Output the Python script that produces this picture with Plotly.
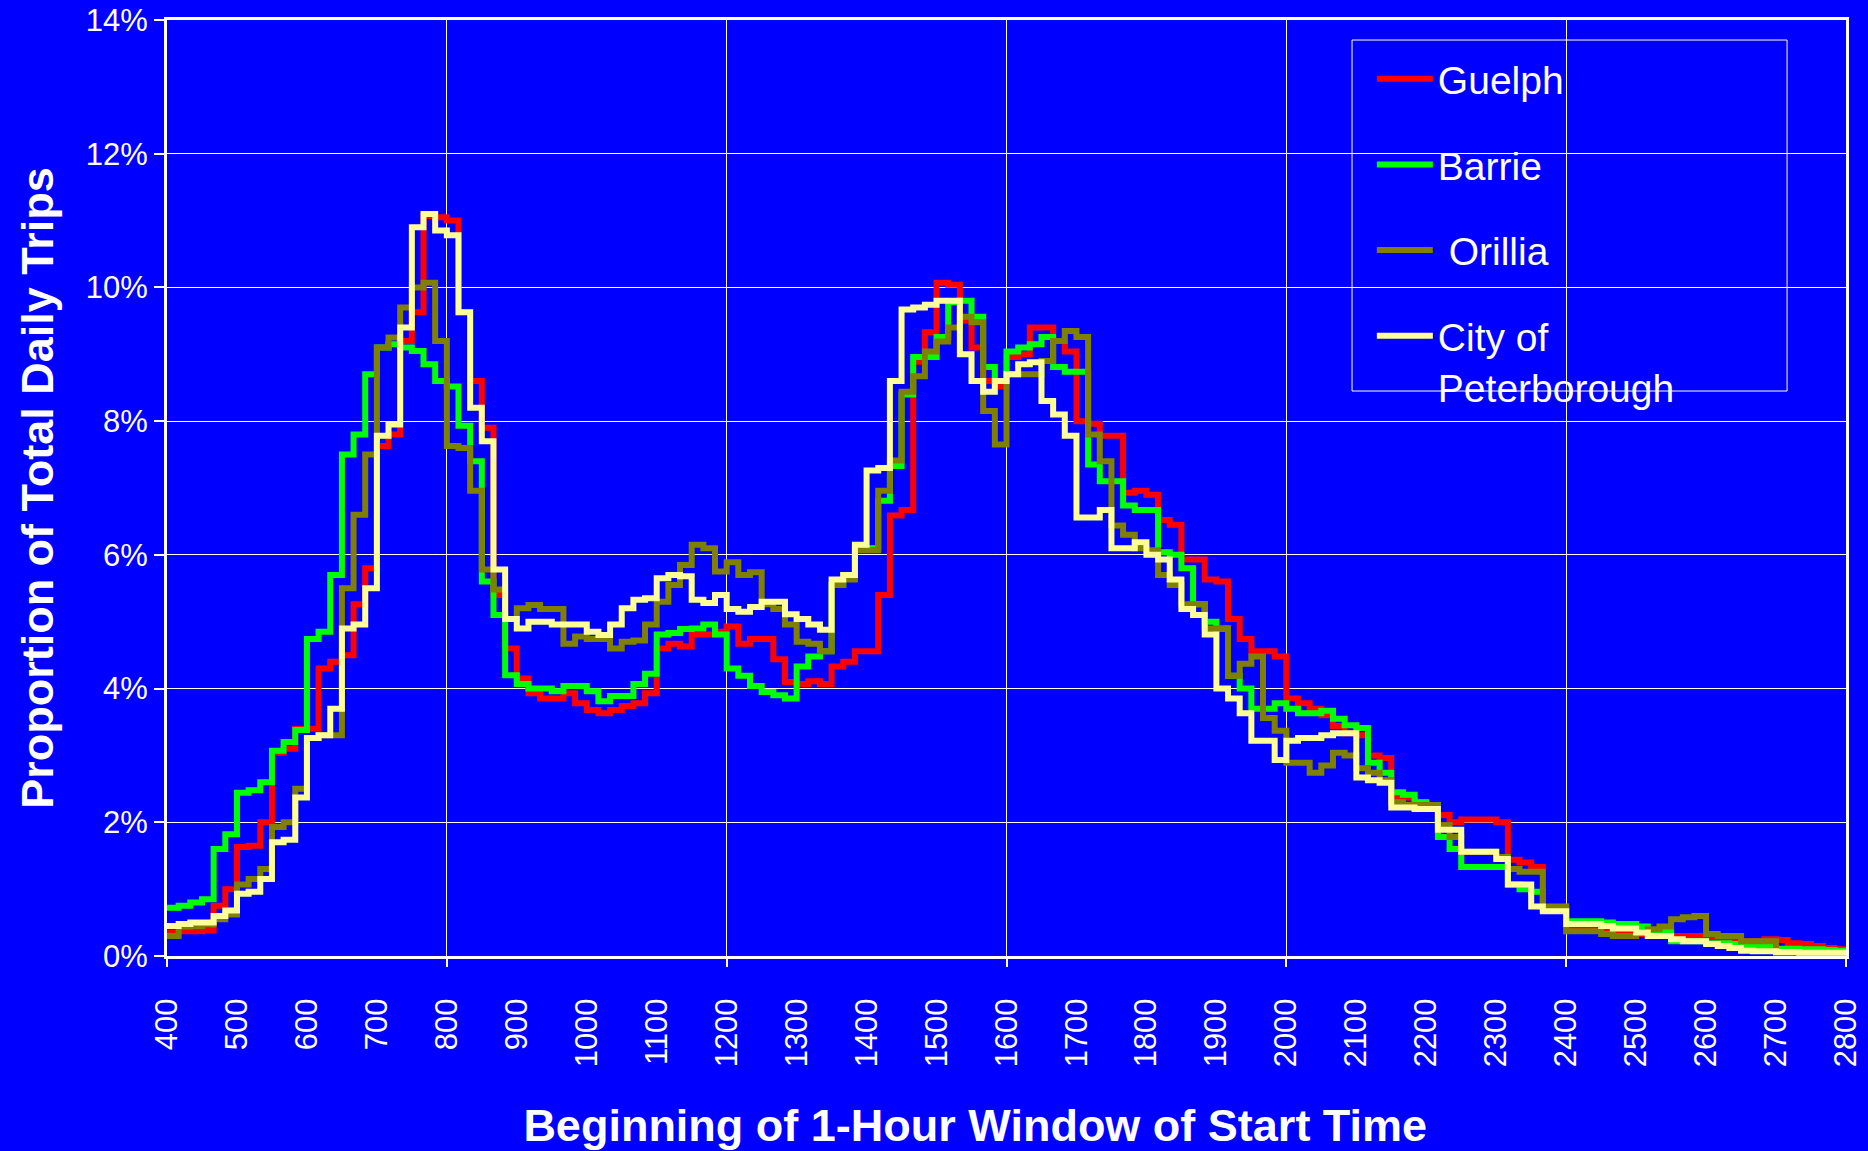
import plotly.graph_objects as go

# Beginning of the 1-hour window, sampled every 10 minutes from 4:00 to 28:00 (hours)
TIMES = [4 + i / 6 for i in range(145)]

TICK_HOURS = list(range(4, 29))
TICK_LABELS = [str(h * 100) for h in TICK_HOURS]

GUELPH = [
    0.35, 0.37, 0.37, 0.38, 0.75, 1.00,
    1.63, 1.65, 2.00, 3.04, 3.10, 3.40,
    3.40, 4.30, 4.40, 4.50, 5.26, 5.80,
    7.63, 7.80, 9.20, 9.63, 11.07, 11.05,
    11.00, 9.63, 8.60, 7.90, 5.40, 4.60,
    4.15, 3.93, 3.85, 3.85, 3.93, 3.78,
    3.68, 3.63, 3.68, 3.74, 3.78, 3.93,
    4.60, 4.67, 4.63, 4.81, 4.81, 4.85,
    4.93, 4.67, 4.74, 4.74, 4.44, 4.10,
    4.07, 4.11, 4.07, 4.33, 4.40, 4.56,
    4.56, 5.40, 6.59, 6.67, 8.89, 9.33,
    10.07, 10.04, 9.50, 9.10, 8.60, 8.52,
    8.96, 9.00, 9.40, 9.40, 9.20, 9.04,
    8.00, 7.96, 7.78, 7.78, 6.93, 6.96,
    6.90, 6.52, 6.45, 5.93, 5.93, 5.63,
    5.60, 5.04, 4.74, 4.56, 4.56, 4.48,
    3.85, 3.78, 3.70, 3.60, 3.44, 3.33,
    3.30, 3.00, 2.96, 2.37, 2.37, 2.30,
    2.25, 2.11, 2.00, 2.04, 2.04, 2.04,
    2.00, 1.44, 1.40, 1.33, 0.70, 0.70,
    0.44, 0.44, 0.44, 0.42, 0.37, 0.37,
    0.33, 0.30, 0.30, 0.30, 0.30, 0.30,
    0.28, 0.27, 0.25, 0.22, 0.22, 0.25,
    0.24, 0.19, 0.18, 0.15, 0.12, 0.10,
    0.08,
]

BARRIE = [
    0.72, 0.75, 0.80, 0.85, 1.60, 1.82,
    2.44, 2.48, 2.60, 3.07, 3.20, 3.38,
    4.74, 4.85, 5.70, 7.50, 7.80, 8.70,
    9.10, 9.15, 9.10, 9.05, 8.85, 8.60,
    8.52, 7.93, 7.40, 5.60, 5.10, 4.20,
    4.07, 4.00, 4.00, 3.96, 4.04, 4.04,
    3.96, 3.81, 3.89, 3.89, 4.07, 4.22,
    4.81, 4.83, 4.89, 4.90, 4.96, 4.81,
    4.30, 4.19, 4.04, 3.95, 3.90, 3.85,
    4.33, 4.48, 4.56, 5.55, 5.70, 6.10,
    6.10, 6.81, 7.33, 8.40, 8.96, 8.96,
    9.26, 9.78, 9.80, 9.56, 8.81, 8.60,
    9.04, 9.10, 9.15, 9.26, 8.81, 8.74,
    8.74, 7.35, 7.10, 7.10, 6.74, 6.67,
    6.67, 6.04, 6.00, 5.80, 5.26, 5.00,
    4.90, 4.19, 4.00, 3.70, 3.70, 3.78,
    3.70, 3.63, 3.63, 3.67, 3.55, 3.45,
    3.41, 2.89, 2.74, 2.45, 2.41, 2.30,
    2.26, 1.78, 1.60, 1.33, 1.33, 1.33,
    1.33, 1.07, 1.00, 0.96, 0.70, 0.70,
    0.52, 0.52, 0.52, 0.50, 0.48, 0.48,
    0.44, 0.37, 0.37, 0.22, 0.22, 0.22,
    0.19, 0.19, 0.18, 0.15, 0.15, 0.14,
    0.11, 0.11, 0.10, 0.10, 0.09, 0.08,
    0.07,
]

ORILLIA = [
    0.30, 0.44, 0.45, 0.47, 0.55, 0.62,
    1.07, 1.15, 1.30, 1.93, 2.00, 2.50,
    3.26, 3.30, 3.30, 5.50, 6.60, 7.50,
    9.10, 9.25, 9.70, 10.00, 10.07, 9.20,
    7.63, 7.60, 6.96, 5.78, 5.48, 5.04,
    5.20, 5.25, 5.19, 5.19, 4.67, 4.78,
    4.74, 4.74, 4.60, 4.70, 4.72, 4.96,
    5.30, 5.55, 5.85, 6.15, 6.10, 5.75,
    5.89, 5.70, 5.74, 5.26, 5.19, 4.96,
    4.70, 4.67, 4.56, 5.55, 5.63, 6.07,
    6.07, 6.96, 7.41, 8.44, 8.67, 9.04,
    9.19, 9.40, 9.56, 9.48, 8.15, 7.65,
    8.70, 8.70, 8.70, 8.90, 9.20, 9.35,
    9.26, 7.80, 7.40, 6.44, 6.30, 6.10,
    6.07, 5.70, 5.55, 5.26, 5.26, 4.90,
    4.89, 4.19, 4.37, 4.48, 3.56, 3.37,
    2.89, 2.89, 2.74, 2.85, 3.04, 3.00,
    2.81, 2.74, 2.63, 2.30, 2.26, 2.26,
    2.26, 1.96, 1.78, 1.56, 1.56, 1.56,
    1.48, 1.30, 1.26, 1.26, 0.74, 0.74,
    0.37, 0.37, 0.37, 0.33, 0.30, 0.30,
    0.35, 0.40, 0.44, 0.55, 0.58, 0.60,
    0.33, 0.30, 0.30, 0.22, 0.22, 0.22,
    0.03, 0.03, 0.03, 0.03, 0.03, 0.03,
    0.03,
]

PETERBOROUGH = [
    0.45, 0.48, 0.50, 0.50, 0.60, 0.68,
    0.93, 0.96, 1.15, 1.70, 1.74, 2.37,
    3.26, 3.30, 3.70, 4.90, 4.96, 5.50,
    7.78, 7.95, 9.40, 10.90, 11.10, 10.85,
    10.78, 9.63, 8.20, 7.70, 5.78, 5.04,
    4.90, 5.00, 5.00, 4.96, 4.96, 4.96,
    4.85, 4.80, 4.96, 5.20, 5.33, 5.35,
    5.65, 5.70, 5.68, 5.33, 5.28, 5.40,
    5.19, 5.15, 5.22, 5.30, 5.30, 5.11,
    5.04, 4.96, 4.88, 5.63, 5.70, 6.15,
    7.26, 7.30, 8.60, 9.67, 9.70, 9.74,
    9.80, 9.80, 9.00, 8.60, 8.44, 8.60,
    8.70, 8.85, 8.88, 8.30, 8.10, 7.78,
    6.56, 6.56, 6.67, 6.10, 6.10, 6.19,
    6.00, 5.93, 5.63, 5.19, 5.10, 4.81,
    4.00, 3.85, 3.63, 3.22, 3.22, 2.93,
    3.22, 3.26, 3.26, 3.30, 3.33, 3.33,
    2.67, 2.63, 2.59, 2.22, 2.22, 2.20,
    2.20, 1.89, 1.89, 1.56, 1.56, 1.56,
    1.45, 1.07, 1.07, 0.74, 0.67, 0.67,
    0.48, 0.48, 0.48, 0.45, 0.41, 0.41,
    0.35, 0.30, 0.30, 0.25, 0.22, 0.22,
    0.18, 0.15, 0.12, 0.08, 0.07, 0.07,
    0.06, 0.06, 0.05, 0.05, 0.05, 0.05,
    0.05,
]

SERIES_NAMES = ["Guelph", "Barrie", " Orillia", "City of<br>Peterborough"]
SERIES_VALUES = [GUELPH, BARRIE, ORILLIA, PETERBOROUGH]
SERIES_COLORS = ["#FF0000", "#00FF00", "#808000", "#FFFF99"]

FONT = "Liberation Sans, Arial, sans-serif"
BLUE = "#0000FF"

fig = go.Figure()
for name, vals, color in zip(SERIES_NAMES, SERIES_VALUES, SERIES_COLORS):
    fig.add_trace(go.Scatter(
        x=TIMES, y=vals, mode="lines", name=name, legendgroup=name,
        line=dict(color=color, width=6, shape="hv"),
    ))

# helper trace so the overlay axis (gridlines every 4 hours) is drawn
fig.add_trace(go.Scatter(x=[TIMES[0], TIMES[-1]], y=[None, None], xaxis="x2",
                         showlegend=False, hoverinfo="skip"))

fig.update_layout(
    width=1868, height=1151,
    paper_bgcolor=BLUE, plot_bgcolor=BLUE,
    margin=dict(l=167, r=22, t=20, b=195, autoexpand=False),
    font=dict(family=FONT, color="white"),
    showlegend=True,
    legend=dict(
        x=0.7176, y=0.9713, xanchor="left", yanchor="top",
        font=dict(size=39, color="white", family=FONT),
        bgcolor="rgba(0,0,0,0)", borderwidth=0,
        tracegroupgap=32, valign="top", itemwidth=56,
        traceorder="grouped",
    ),
    xaxis=dict(
        range=[4, 28], tickvals=TICK_HOURS, ticktext=TICK_LABELS,
        tickangle=-90, tickfont=dict(size=31, color="white"),
        showgrid=False, zeroline=False, ticks="", automargin=False,
        ticklabelstandoff=27,
        showline=True, linecolor="white", linewidth=3, mirror=True,
        title=dict(text="<b>Beginning of 1-Hour Window of Start Time</b>" + "&nbsp;" * 5,
                   font=dict(size=45, color="white"), standoff=45),
    ),
    xaxis2=dict(
        overlaying="x", anchor="y", side="bottom", range=[4, 28],
        tick0=4, dtick=4, showgrid=True, gridcolor="white", gridwidth=1,
        ticks="outside", ticklen=10, tickwidth=2, tickcolor="white",
        showticklabels=False, showline=False, zeroline=False, automargin=False,
    ),
    yaxis=dict(
        range=[0, 14], tick0=0, dtick=2, ticksuffix="%",
        tickfont=dict(size=31, color="white"), ticklabeloverflow="allow",
        showgrid=True, gridcolor="white", gridwidth=1, zeroline=False,
        ticks="outside", ticklen=10, tickwidth=2, tickcolor="white",
        automargin=False,
        showline=True, linecolor="white", linewidth=3, mirror=True,
        title=dict(text="<b>Proportion of Total Daily Trips</b>",
                   font=dict(size=45, color="white"), standoff=19),
    ),
    shapes=[dict(type="rect", xref="paper", yref="paper",
                 x0=0.7058, x1=0.9649, y0=0.6036, y1=0.9786,
                 line=dict(color="white", width=1), layer="above")],
)

fig.write_html(
    "out.html",
    config={"displayModeBar": False},
    post_script="document.body.style.margin='0';document.body.style.overflow='hidden';",
)
